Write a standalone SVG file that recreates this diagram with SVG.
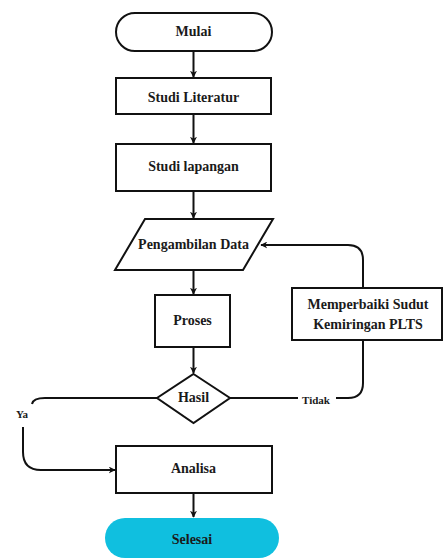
<svg xmlns="http://www.w3.org/2000/svg" width="443" height="560" viewBox="0 0 443 560">
<defs>
<marker id="ah" viewBox="0 0 10 10" refX="9" refY="5" markerWidth="7" markerHeight="7" orient="auto" markerUnits="userSpaceOnUse">
<path d="M0,0 L10,5 L0,10 L3,5 z" fill="#111"/>
</marker>
<style>
.s{fill:#fff;stroke:#111;stroke-width:2}
.t{font-family:"Liberation Serif","DejaVu Serif","Times New Roman",serif;font-weight:bold;font-size:14px;fill:#1a1a1a;text-anchor:middle;dominant-baseline:central}
.l{font-family:"Liberation Serif","DejaVu Serif","Times New Roman",serif;font-weight:bold;font-size:11px;fill:#1a1a1a;text-anchor:middle;dominant-baseline:central}
.c{fill:none;stroke:#111;stroke-width:2}
</style>
</defs>
<rect width="443" height="560" fill="#fff"/>
<g id="connectors">
<path class="c" d="M193.5,51 V77" marker-end="url(#ah)"/>
<path class="c" d="M193.5,114 V143" marker-end="url(#ah)"/>
<path class="c" d="M193.5,191 V218" marker-end="url(#ah)"/>
<path class="c" d="M193.5,270 V294" marker-end="url(#ah)"/>
<path class="c" d="M193.5,347 V373" marker-end="url(#ah)"/>
<path class="c" d="M193.5,493 V517" marker-end="url(#ah)"/>
<path class="c" d="M230,398 H298"/>
<path class="c" d="M336,398 H348 Q363,398 363,383 V340"/>
<path class="c" d="M363,288 V260 Q363,245 348,245 H261" marker-end="url(#ah)"/>
<path class="c" d="M157,398 H45 Q33,398 32,404"/>
<path class="c" d="M23,427 V452 Q23,470 41,470 H115" marker-end="url(#ah)"/>
<text class="l" x="316" y="400" font-family="Liberation Serif, serif">Tidak</text>
<text class="l" x="22" y="414" font-family="Liberation Serif, serif">Ya</text>
</g>
<g id="mulai"><rect class="s" x="116" y="13" width="156" height="38" rx="19"/><text class="t" x="193.5" y="31">Mulai</text></g>
<g id="studi-literatur"><rect class="s" x="116" y="78" width="155" height="36"/><text class="t" x="193.5" y="97">Studi Literatur</text></g>
<g id="studi-lapangan"><rect class="s" x="116" y="144" width="155" height="47"/><text class="t" x="193.5" y="166">Studi lapangan</text></g>
<g id="pengambilan-data"><polygon class="s" points="145,219 273,219 243,270 115,270"/><text class="t" x="193.5" y="244">Pengambilan Data</text></g>
<g id="proses"><rect class="s" x="155" y="295" width="75" height="52"/><text class="t" x="192.5" y="320">Proses</text></g>
<g id="hasil"><polygon class="s" points="193.5,374 230,398 193.5,423 157,398"/><text class="t" x="193.5" y="397">Hasil</text></g>
<g id="memperbaiki"><rect class="s" x="292" y="288" width="150" height="52"/><text class="t" x="368" y="304">Memperbaiki Sudut</text><text class="t" x="368" y="324">Kemiringan PLTS</text></g>
<g id="analisa"><rect class="s" x="116" y="446" width="156" height="47"/><text class="t" x="193.5" y="468">Analisa</text></g>
<g id="selesai"><rect x="105" y="518" width="174" height="40" rx="20" fill="#10bfdf"/><text class="t" x="192" y="539">Selesai</text></g>
</svg>
